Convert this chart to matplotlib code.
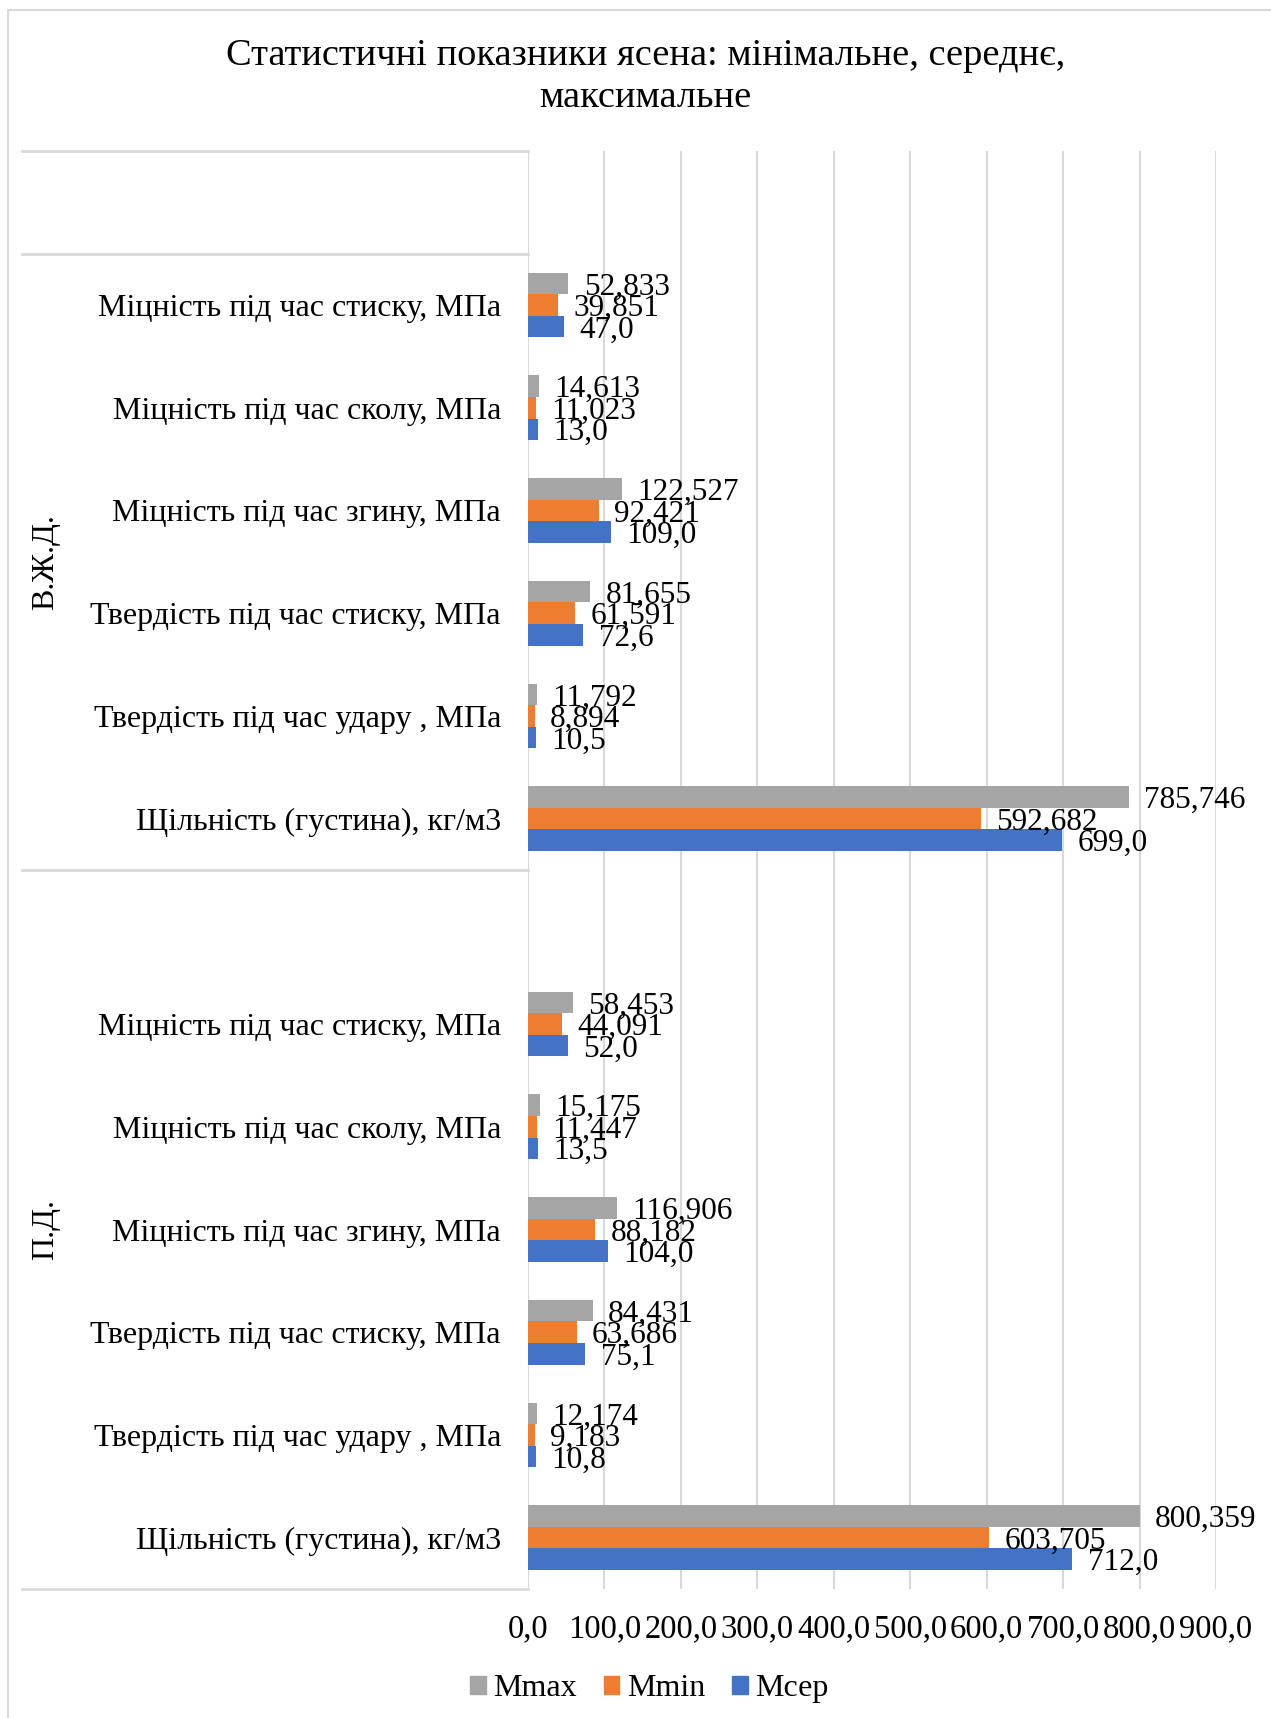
import numpy as np
import matplotlib.pyplot as plt
from matplotlib.patches import Patch, Rectangle
import matplotlib.transforms as mtransforms

plt.rcParams['font.family'] = ['Liberation Serif', 'DejaVu Serif']

# data, top-to-bottom order within each group
categories = ["Міцність під час стиску, МПа", "Міцність під час сколу, МПа",
              "Міцність під час згину, МПа", "Твердість під час стиску, МПа",
              "Твердість під час удару , МПа", "Щільність (густина), кг/м3"]
groups = ["В.Ж.Д.", "П.Д."]

vzhd_max = [52.833, 14.613, 122.527, 81.655, 11.792, 785.746]
vzhd_min = [39.851, 11.023, 92.421, 61.591, 8.894, 592.682]
vzhd_mean = [47.0, 13.0, 109.0, 72.6, 10.5, 699.0]
pd_max = [58.453, 15.175, 116.906, 84.431, 12.174, 800.359]
pd_min = [44.091, 11.447, 88.182, 63.686, 9.183, 603.705]
pd_mean = [52.0, 13.5, 104.0, 75.1, 10.8, 712.0]

xticks = np.arange(0, 901, 100)
title = "Статистичні показники ясена: мінімальне, середнє,\nмаксимальне"

c_max = '#A5A5A5'
c_min = '#ED7D31'
c_mean = '#4472C4'
grid_c = '#D9D9D9'

# row positions (bottom = 0): П.Д. rows 0..5 + blank 6, В.Ж.Д. rows 7..12, blank 13
pd_pos = np.arange(5, -1, -1)
vz_pos = np.arange(12, 6, -1)

fig = plt.figure(figsize=(12.71, 17.18), dpi=100)
ax = fig.add_axes([528/1271, 1-1589/1718, 688/1271, 1438/1718])

h = 0.21
lbl = dict(va='center', ha='left', fontsize=22.5, zorder=5, textcoords='offset points')
for pos, mx, mn, me in [(pd_pos, pd_max, pd_min, pd_mean), (vz_pos, vzhd_max, vzhd_min, vzhd_mean)]:
    ax.barh(pos + h, mx, height=h, color=c_max, zorder=3)
    ax.barh(pos, mn, height=h, color=c_min, zorder=3)
    ax.barh(pos - h, me, height=h, color=c_mean, zorder=3)
    for p, a, b, c in zip(pos, mx, mn, me):
        ax.annotate(f"{a:.3f}".replace('.', ','), (a, p + h), xytext=(11, -2.5), **lbl)
        ax.annotate(f"{b:.3f}".replace('.', ','), (b, p), xytext=(11, -2.5), **lbl)
        ax.annotate(f"{c:.1f}".replace('.', ','), (c, p - h), xytext=(11, -2.5), **lbl)

ax.set_xlim(0, 900)
ax.set_ylim(-0.5, 13.5)
ax.set_xticks(xticks)
ax.set_xticklabels([f"{v:.1f}".replace('.', ',') for v in xticks], fontsize=23.5)
ax.tick_params(axis='x', length=0, pad=17.5)
ax.set_yticks(list(pd_pos) + list(vz_pos))
ax.set_yticklabels(categories + categories, fontsize=23)
ax.tick_params(axis='y', length=0, pad=19.5)
for s in ax.spines.values():
    s.set_visible(False)
ax.grid(axis='x', color=grid_c, linewidth=1.5, zorder=0)

# multi-level category separators
trans = mtransforms.blended_transform_factory(ax.transAxes, ax.transData)
x0 = (22 - 528) / 688
for yb in [-0.5, 6.5, 12.5, 13.5]:
    ax.plot([x0, 0], [yb, yb], color=grid_c, linewidth=2, transform=trans, clip_on=False)
ax.text((46 - 528) / 688, 9.5, groups[0], rotation=90, ha='center', va='center', fontsize=23, transform=trans)
ax.text((46 - 528) / 688, 3.0, groups[1], rotation=90, ha='center', va='center', fontsize=23, transform=trans)

fig.text(0.508, 0.9555, title, ha='center', va='center', fontsize=27.6, linespacing=1.28)

handles = [Patch(color=c_max, label='Mmax'), Patch(color=c_min, label='Mmin'), Patch(color=c_mean, label='Mсер')]
fig.legend(handles=handles, loc='center', bbox_to_anchor=(0.511, 0.017), ncol=3, frameon=False,
           fontsize=23, handlelength=0.48, handleheight=0.48, handletextpad=0.24, columnspacing=0.85)

fig.patches.append(Rectangle((8/1271, -0.1), 1.2, 1.1 - 10/1718, transform=fig.transFigure,
                             fill=False, edgecolor=grid_c, linewidth=1.5))

fig.savefig('out.png', dpi=100)
